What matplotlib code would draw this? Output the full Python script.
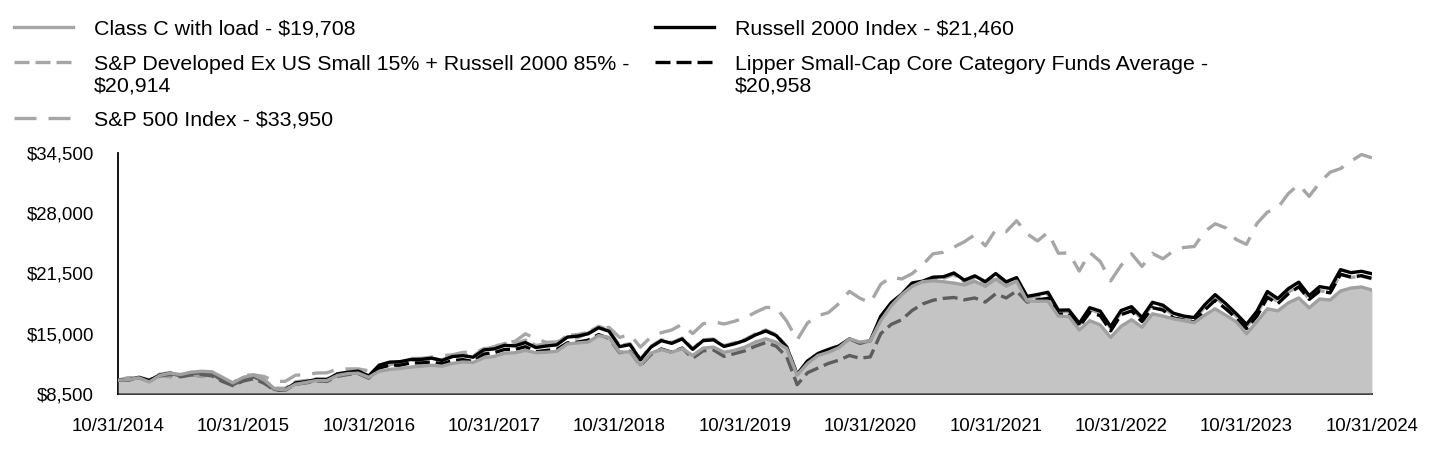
import numpy as np
import matplotlib
matplotlib.use("Agg")
import matplotlib.pyplot as plt
from matplotlib.lines import Line2D

plt.rcParams['font.family'] = ['Liberation Sans', 'DejaVu Sans']

# month-end values, 10/31/2014 .. 10/31/2024 (each row = Nov..Oct)
class_c = [10000,
    10050, 10250, 9800, 10500, 10750, 10600, 10850, 10950, 10900, 10300, 9700, 10300,
    10550, 10000, 9050, 8950, 9550, 9750, 9950, 9950, 10500, 10700, 10750, 10300,
    10950, 11150, 11250, 11400, 11500, 11600, 11500, 11800, 11950, 11900, 12400, 12550,
    12900, 12950, 13200, 12950, 13000, 13100, 13900, 14000, 14100, 14800, 14600, 13000,
    13050, 11600, 12900, 13300, 13000, 13400, 12650, 13450, 13550, 13000, 13200, 13550,
    14100, 14450, 14080, 13400, 10550, 11800, 12650, 13000, 13500, 14450, 14100, 14250,
    16400, 18000, 19200, 20100, 20600, 20700, 20600, 20450, 20250, 20650, 20100, 20880,
    20130, 20660, 18530, 18500, 18500, 16900, 16850, 15400, 16400, 15950, 14600, 15800,
    16500, 15700, 17140, 16900, 16600, 16400, 16180, 17000, 17680, 17000, 16300, 15000,
    16300, 17680, 17460, 18320, 18850, 17780, 18740, 18630, 19600, 19920, 20030, 19708]

blend = [10000,
    10020, 10330, 10010, 10620, 10820, 10560, 10820, 10920, 10810, 10140, 9660, 10210,
    10550, 10030, 9130, 9110, 9820, 9950, 10140, 10120, 10690, 10850, 10950, 10410,
    11520, 11820, 11900, 12150, 12200, 12370, 12150, 12600, 12720, 12580, 13390, 13530,
    13950, 13920, 14300, 13730, 13900, 14000, 14820, 14910, 15160, 15800, 15400, 13710,
    13930, 12270, 13640, 14350, 14050, 14530, 13400, 14350, 14430, 13720, 14010, 14370,
    14970, 15400, 14890, 13620, 10650, 12100, 12880, 13320, 13670, 14430, 13930, 14210,
    16810, 18250, 19140, 20330, 20510, 20940, 20970, 21370, 20580, 21040, 20400, 21270,
    20360, 20810, 18810, 19010, 19250, 17340, 17360, 15940, 17600, 17240, 15590, 17310,
    17710, 16560, 18160, 17850, 16980, 16680, 16510, 17850, 18920, 17980, 16900, 15750,
    17120, 19210, 18440, 19470, 20140, 18710, 19640, 19440, 21400, 21060, 21180, 20914]

sp500 = [10000,
    10269, 10243, 9936, 10507, 10341, 10440, 10575, 10370, 10588, 9950, 9704, 10523,
    10555, 10388, 9873, 9860, 10529, 10570, 10760, 10788, 11186, 11202, 11204, 11000,
    11407, 11633, 11854, 12325, 12340, 12467, 12643, 12721, 12983, 13023, 13291, 13601,
    14019, 14174, 14987, 14434, 14067, 14120, 14461, 14550, 15092, 15584, 15673, 14601,
    14899, 13554, 14639, 15109, 15402, 16026, 15008, 16066, 16297, 16040, 16340, 16695,
    17301, 17824, 17817, 16351, 14332, 16169, 16939, 17276, 18251, 19563, 18820, 18319,
    20325, 21106, 20893, 21470, 22410, 23607, 23772, 24326, 24905, 25662, 24469, 26184,
    26003, 27168, 25763, 24993, 25920, 23660, 23703, 21747, 23752, 22783, 20685, 22361,
    23610, 22249, 23647, 23070, 23916, 24289, 24393, 26006, 26841, 26414, 25154, 24626,
    26875, 28096, 28568, 30094, 31063, 29796, 31274, 32394, 32789, 33586, 34305, 33950]

russell = [10000,
    10002, 10287, 9956, 10547, 10731, 10457, 10695, 10776, 10652, 9984, 9494, 10029,
    10356, 9836, 8971, 8971, 9689, 9841, 10062, 10056, 10656, 10848, 10968, 10447,
    11612, 11937, 11985, 12216, 12232, 12366, 12115, 12534, 12627, 12467, 13245, 13359,
    13744, 13689, 14046, 13503, 13677, 13795, 14632, 14737, 14993, 15640, 15263, 13606,
    13822, 12180, 13550, 14255, 13957, 14432, 13309, 14251, 14334, 13626, 13909, 14275,
    14863, 15291, 14800, 13554, 10608, 12066, 12851, 13305, 13674, 14444, 13961, 14253,
    16881, 18341, 19258, 20458, 20656, 21090, 21134, 21544, 20766, 21231, 20605, 21481,
    20585, 21044, 19017, 19221, 19459, 17531, 17557, 16116, 17800, 17435, 15765, 17500,
    17910, 16748, 18381, 18070, 17206, 16896, 16741, 18102, 19210, 18250, 17176, 16004,
    17415, 19543, 18783, 19844, 20554, 19107, 20066, 19879, 21899, 21573, 21724, 21460]

lipper = [10000,
    10000, 10250, 9900, 10450, 10600, 10350, 10550, 10600, 10450, 9850, 9400, 9900,
    10150, 9650, 8900, 8900, 9550, 9700, 9900, 9850, 10400, 10600, 10700, 10200,
    11300, 11600, 11600, 11850, 11850, 11950, 11750, 12100, 12200, 12000, 12800, 12950,
    13300, 13300, 13600, 13050, 13200, 13300, 14000, 14100, 14300, 14900, 14500, 12950,
    13100, 11550, 12750, 13350, 13000, 13450, 12350, 13150, 13250, 12550, 12850, 13150,
    13650, 14050, 13650, 12500, 9500, 10800, 11300, 11800, 12150, 12650, 12350, 12500,
    15000, 16000, 16500, 17500, 18200, 18600, 18800, 18900, 18650, 18850, 18400, 19300,
    18850, 19600, 18400, 18650, 18800, 17100, 17150, 15750, 17300, 16950, 15300, 17050,
    17450, 16300, 17800, 17550, 16700, 16450, 16250, 17550, 18600, 17700, 16700, 15550,
    16900, 18900, 18250, 19300, 20050, 18700, 19600, 19400, 21400, 21100, 21250, 20958]

labels = ["Class C with load - $19,708",
          "S&P Developed Ex US Small 15% + Russell 2000 85% -\n$20,914",
          "S&P 500 Index - $33,950",
          "Russell 2000 Index - $21,460",
          "Lipper Small-Cap Core Category Funds Average -\n$20,958"]

year_labels = ["10/31/%d" % y for y in range(2014, 2025)]
y_ticks = [8500, 15000, 21500, 28000, 34500]

LW = 2.4
GRAY = '#a6a6a6'
sty_blend = (0, (4.5, 1.8))
sty_sp = (0, (6.6, 3.6))
sty_lip = (0, (4.5, 1.8))

fig = plt.figure(figsize=(14.4, 4.68), dpi=100)
ax = fig.add_axes([0.0819, 0.1581, 0.8708, 0.5156])

def xs(vals):
    return np.arange(len(vals))

ax.plot(xs(sp500), sp500, color=GRAY, lw=LW, linestyle=sty_sp, zorder=2)
ax.plot(xs(blend), blend, color=GRAY, lw=LW, linestyle=sty_blend, zorder=2.2)
ax.plot(xs(lipper), lipper, color='black', lw=LW, linestyle=sty_lip, zorder=2.4)
ax.plot(xs(russell), russell, color='black', lw=LW, zorder=2.6)
# translucent fill: lines behind it show through darker
ax.fill_between(xs(class_c), class_c, 8500, color='#9d9d9d', alpha=0.6, lw=0, zorder=3)
ax.plot(xs(class_c), class_c, color='#a0a0a0', lw=LW, zorder=4)

ax.set_xlim(0, 120)
ax.set_ylim(8500, 34500)
ax.set_xticks(np.arange(0, 121, 12))
ax.set_xticklabels(year_labels)
ax.set_yticks(y_ticks)
ax.set_yticklabels(["${:,}".format(v) for v in y_ticks])
ax.tick_params(length=0, pad=17, labelsize=13.4)
for s in ['top', 'right']:
    ax.spines[s].set_visible(False)
for s in ['left', 'bottom']:
    ax.spines[s].set_color('black')
    ax.spines[s].set_linewidth(1.3)

# legend drawn by hand so the handle sits on the first text line
W, H = 1440.0, 468.0
entries = [
    (14, 27, labels[0], GRAY, '-'),
    (14, 62, labels[1], GRAY, sty_blend),
    (14, 118, labels[2], GRAY, sty_sp),
    (655, 27, labels[3], 'black', '-'),
    (655, 62, labels[4], 'black', sty_lip),
]
for x0, y0, txt, col, ls in entries:
    fig.add_artist(Line2D([x0 / W, (x0 + 59) / W], [1 - y0 / H, 1 - y0 / H],
                          transform=fig.transFigure, color=col, lw=LW, linestyle=ls))
    for i, line in enumerate(txt.split("\n")):
        fig.text((x0 + 80) / W, 1 - (y0 + 21.5 * i) / H, line, fontsize=15.4,
                 va='center_baseline', ha='left')

fig.savefig("out.png", dpi=100)
